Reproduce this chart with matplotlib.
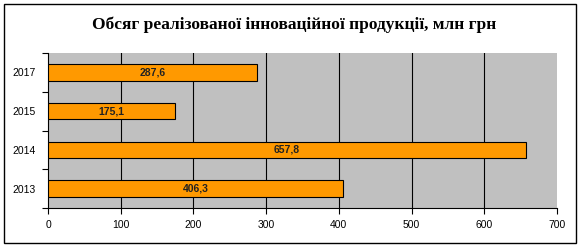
import matplotlib
matplotlib.use("Agg")
import matplotlib.pyplot as plt
from matplotlib.patches import Rectangle

title = "Обсяг реалізованої інноваційної продукції, млн грн"
years = ["2013", "2014", "2015", "2017"]
values = [406.3, 657.8, 175.1, 287.6]
xticks = [0, 100, 200, 300, 400, 500, 600, 700]

W, H = 583, 250
fig = plt.figure(figsize=(W/100, H/100), dpi=100)
fig.patch.set_facecolor("white")

# outer frame
fig.patches.append(Rectangle((4/W, 1 - 243/H), 572/W, 239/H, transform=fig.transFigure,
                             fill=False, edgecolor="black", linewidth=1.0))

ax = fig.add_axes([48/W, 1 - 208/H, (557-48)/W, (208-53)/H])
ax.set_facecolor("#C0C0C0")
ypos = list(range(len(years)))
ax.barh(ypos, values, height=0.42, color="#FF9900", edgecolor="black", linewidth=0.8, zorder=3)
for y, v in zip(ypos, values):
    ax.text(v/2, y, f"{v:.1f}".replace(".", ","), ha="center", va="center",
            fontsize=7.5, fontweight="bold", color="#222222", family="Liberation Sans", zorder=4)

ax.set_xlim(0, 700)
ax.set_ylim(-0.5, len(years) - 0.5)
ax.set_xticks(xticks)
ax.set_xticklabels([str(t) for t in xticks], fontsize=7.5, family="Liberation Sans")
ax.set_yticks(ypos)
ax.set_yticklabels(years, fontsize=7.5, family="Liberation Sans")
ax.set_yticks([i - 0.5 for i in range(len(years) + 1)], minor=True)
ax.tick_params(axis="y", which="major", length=0, pad=9)
ax.tick_params(axis="y", which="minor", length=4, direction="out", width=0.8)
ax.tick_params(axis="x", length=4, direction="out", width=0.8, pad=5)
for t in xticks[1:-1]:
    ax.axvline(t, color="black", linewidth=0.8, zorder=1)
for s in ["top", "right"]:
    ax.spines[s].set_visible(False)
for s in ["left", "bottom"]:
    ax.spines[s].set_linewidth(0.8)

fig.text(294/W, 1 - 25/H, title, ha="center", va="center", fontsize=12.5,
         fontweight="bold", family="Liberation Serif")

fig.savefig("out.png", dpi=100)
